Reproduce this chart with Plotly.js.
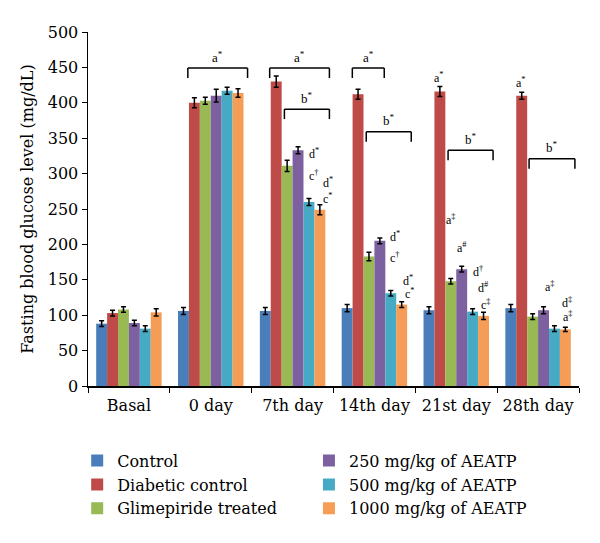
<!DOCTYPE html>
<html>
<head>
<meta charset="utf-8">
<script src="https://cdn.plot.ly/plotly-3.0.1.min.js"></script>
<style>
  body { margin: 0; background: #fff; }
  #chart { width: 600px; height: 543px; }
</style>
</head>
<body>
<div id="chart"></div>
<script>
var days = ["Basal", "0 day", "7th day", "14th day", "21st day", "28th day"];

var groups = ["Control", "Diabetic control", "Glimepiride treated",
              "250 mg/kg of AEATP", "500 mg/kg of AEATP", "1000 mg/kg of AEATP"];
var colors = ["#4A7EBB", "#BE4B48", "#98B954", "#7D60A0", "#46AAC5", "#F59D56"];

// mean glucose per group, one value per day
var control   = [88, 106, 106, 110, 107, 110];
var diabetic  = [103, 400, 430, 412, 416, 410];
var glime     = [108, 403, 311, 183, 148, 98];
var dose250   = [89, 410, 333, 205, 165, 107];
var dose500   = [81, 417, 260, 131, 105, 81];
var dose1000  = [104, 414, 249, 115, 99, 80];

var errControl  = [4, 5, 5, 5, 5, 5];
var errDiabetic = [4, 7, 8, 7, 7, 5];
var errGlime    = [4, 5, 8, 6, 4, 4];
var err250      = [4, 9, 5, 4, 4, 5];
var err500      = [4, 5, 5, 4, 4, 4];
var err1000     = [5, 6, 7, 4, 5, 3];

var series = [control, diabetic, glime, dose250, dose500, dose1000];
var errors = [errControl, errDiabetic, errGlime, err250, err500, err1000];

// significance brackets: day index offsets, height, label
var bracketFrom  = [0.72, 1.72, 1.90, 2.73, 2.90, 3.90, 4.89];
var bracketTo    = [1.45, 2.45, 2.45, 3.12, 3.45, 4.45, 5.45];
var bracketTop   = [449, 449, 391, 449, 359, 333, 321];
var bracketLabel = ["a*", "a*", "b*", "a*", "b*", "b*", "b*"];

// small letters next to bars
var markX    = [2.26, 2.26, 2.43, 2.43, 3.25, 3.25, 3.41, 3.43,
                3.93, 4.07, 4.27, 4.33, 4.36, 5.15, 5.35, 5.36, 4.79, 3.79];
var markY    = [328, 298, 288, 265, 211, 182, 149, 130,
                235, 196, 162, 139, 115, 140, 118, 98, 428, 436];
var markText = ["d*", "c†", "d*", "c*", "d*", "c†", "d*", "c*",
                "a‡", "a#", "d†", "d#", "c‡", "a‡", "d‡", "a‡", "a*", "a*"];

var font = "DejaVu Serif, Liberation Serif, serif";
var smallFont = "Liberation Serif, DejaVu Serif, serif";

var sup = function(s) {
  return s.charAt(0) + "<sup>" + s.slice(1) + "</sup>";
};

var data = series.map(function(vals, i) {
  return {
    type: "bar",
    name: groups[i],
    x: days,
    y: vals,
    marker: { color: colors[i] },
    error_y: { type: "data", array: errors[i], visible: true,
               color: "#000", thickness: 1.5, width: 2.5 },
    legend: i < 3 ? "legend" : "legend2",
    hoverinfo: "y"
  };
});

var shapes = [];
var annotations = [];
var drop = 14;
for (var b = 0; b < bracketFrom.length; b++) {
  var line = { color: "#000", width: 1.5 };
  shapes.push({ type: "line", xref: "x", yref: "y", x0: bracketFrom[b], x1: bracketTo[b],
                y0: bracketTop[b], y1: bracketTop[b], line: line });
  shapes.push({ type: "line", xref: "x", yref: "y", x0: bracketFrom[b], x1: bracketFrom[b],
                y0: bracketTop[b], y1: bracketTop[b] - drop, line: line });
  shapes.push({ type: "line", xref: "x", yref: "y", x0: bracketTo[b], x1: bracketTo[b],
                y0: bracketTop[b], y1: bracketTop[b] - drop, line: line });
  annotations.push({ x: (bracketFrom[b] + bracketTo[b]) / 2, y: bracketTop[b] + 2,
                     xref: "x", yref: "y", yanchor: "bottom", showarrow: false,
                     text: sup(bracketLabel[b]),
                     font: { family: smallFont, size: 13, color: "#000" } });
}
for (var m = 0; m < markX.length; m++) {
  annotations.push({ x: markX[m], y: markY[m], xref: "x", yref: "y", showarrow: false,
                     text: sup(markText[m]), borderpad: 0,
                     font: { family: smallFont, size: 12, color: "#000" } });
}

var legendStyle = {
  orientation: "v",
  xanchor: "left",
  yanchor: "top",
  y: -0.163,
  font: { family: font, size: 16, color: "#000" },
  bgcolor: "rgba(0,0,0,0)",
  tracegroupgap: 0
};

var layout = {
  width: 600,
  height: 543,
  margin: { l: 88, r: 21, t: 32, b: 157 },
  paper_bgcolor: "#fff",
  plot_bgcolor: "#fff",
  font: { family: font, size: 16, color: "#000" },
  barmode: "group",
  bargap: 0.2,
  bargroupgap: 0,
  showlegend: true,
  legend: Object.assign({ x: -0.022 }, legendStyle),
  legend2: Object.assign({ x: 0.45 }, legendStyle),
  xaxis: {
    type: "category",
    showline: true,
    linecolor: "#000",
    linewidth: 1.5,
    ticks: "outside",
    tickson: "boundaries",
    ticklen: 5,
    tickcolor: "#000",
    showgrid: false,
    ticklabelstandoff: 4,
    tickfont: { family: font, size: 16 }
  },
  yaxis: {
    range: [0, 500],
    dtick: 50,
    showline: true,
    linecolor: "#000",
    linewidth: 1.5,
    ticks: "outside",
    ticklen: 5,
    tickcolor: "#000",
    showgrid: false,
    zeroline: false,
    tickfont: { family: font, size: 16 },
    title: { text: "Fasting blood glucose level (mg/dL)", font: { family: font, size: 16 }, standoff: 10 }
  },
  shapes: shapes,
  annotations: annotations
};

Plotly.newPlot("chart", data, layout, { displayModeBar: false, staticPlot: true });
</script>
</body>
</html>
